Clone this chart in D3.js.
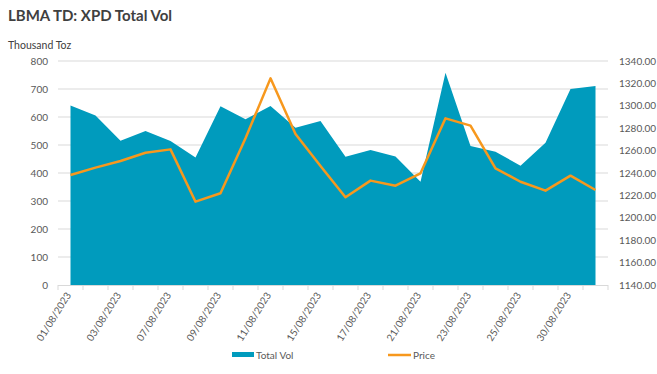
<!DOCTYPE html>
<html>
<head>
<meta charset="utf-8">
<script src="https://cdn.jsdelivr.net/npm/d3@7"></script>
<style>
  body { margin: 0; background: #fff; }
  svg text { font-family: "Lato", "Liberation Sans", sans-serif; fill: #595959; }
</style>
</head>
<body>
<div id="chart"></div>
<script>
// datos
const fechas = ["01/08/2023","02/08/2023","03/08/2023","04/08/2023","07/08/2023","08/08/2023",
  "09/08/2023","10/08/2023","11/08/2023","14/08/2023","15/08/2023","16/08/2023","17/08/2023",
  "18/08/2023","21/08/2023","22/08/2023","23/08/2023","24/08/2023","25/08/2023","29/08/2023",
  "30/08/2023","31/08/2023"]
const totalVol = [641, 605, 515, 550, 514, 455, 638, 592, 639, 562, 586, 458, 482, 459, 369,
  758, 496, 476, 426, 508, 700, 711]
const precio = [1238.2, 1244.8, 1250.7, 1258.1, 1261.1, 1214.4, 1221.9, 1271.0, 1324.5, 1274.8,
  1246.3, 1218.3, 1233.2, 1228.7, 1239.7, 1288.8, 1282.3, 1244.2, 1232.2, 1224.2, 1237.6, 1224.8]
const ticksIzq = [0, 100, 200, 300, 400, 500, 600, 700, 800]
const ticksDer = [1140, 1160, 1180, 1200, 1220, 1240, 1260, 1280, 1300, 1320, 1340]

const ancho = 657, alto = 374
const m = { left: 58, right: 49, top: 61, bottom: 89 }

const svg = d3.select("#chart").append("svg")
  .attr("width", ancho).attr("height", alto)

const x = d3.scaleBand().domain(fechas).range([m.left, ancho - m.right])
const yL = d3.scaleLinear().domain([0, 800]).range([alto - m.bottom, m.top])
const yR = d3.scaleLinear().domain([1140, 1340]).range([alto - m.bottom, m.top])
const cx = d => x(d) + x.bandwidth() / 2

// titulo
svg.append("text").attr("x", 8).attr("y", 21)
  .style("font-size", "15px").style("font-weight", "bold").style("fill", "#404040")
  .text("LBMA TD: XPD Total Vol")
svg.append("text").attr("x", 8).attr("y", 49)
  .style("font-size", "10.5px").style("fill", "#404040")
  .text("Thousand Toz")

// rejilla
svg.append("g").selectAll("line")
  .data(ticksIzq.slice(1)).enter().append("line")
  .attr("x1", m.left).attr("x2", ancho - m.right)
  .attr("y1", d => yL(d)).attr("y2", d => yL(d))
  .attr("stroke", "#d9d9d9").attr("stroke-width", 1)

// eje izquierdo
svg.append("g").selectAll("text")
  .data(ticksIzq).enter().append("text")
  .attr("x", 48).attr("y", d => yL(d)).attr("dy", "0.35em")
  .attr("text-anchor", "end").style("font-size", "10px")
  .text(d => d)

// eje derecho
svg.append("g").selectAll("text")
  .data(ticksDer).enter().append("text")
  .attr("x", 619).attr("y", d => yR(d)).attr("dy", "0.35em")
  .style("font-size", "10px")
  .text(d => d.toFixed(2))

// area
const area = d3.area()
  .x((d, i) => cx(fechas[i]))
  .y0(yL(0))
  .y1(d => yL(d))
svg.append("path").datum(totalVol)
  .attr("d", area).attr("fill", "#009bbd")

// linea precio
const linea = d3.line()
  .x((d, i) => cx(fechas[i]))
  .y(d => yR(d))
svg.append("path").datum(precio)
  .attr("d", linea).attr("fill", "none")
  .attr("stroke", "#f7981d").attr("stroke-width", 2.5)
  .attr("stroke-linejoin", "round")

// eje x
const base = alto - m.bottom
svg.append("line").attr("x1", m.left).attr("x2", ancho - m.right)
  .attr("y1", base + 0.5).attr("y2", base + 0.5).attr("stroke", "#d9d9d9")
svg.append("g").selectAll("line")
  .data(d3.range(fechas.length + 1)).enter().append("line")
  .attr("x1", i => m.left + i * x.bandwidth()).attr("x2", i => m.left + i * x.bandwidth())
  .attr("y1", base).attr("y2", base + 5).attr("stroke", "#d9d9d9")

svg.append("g").selectAll("text")
  .data(fechas.filter((d, i) => i % 2 === 0)).enter().append("text")
  .attr("transform", d => "translate(" + (cx(d) + 1) + "," + (base + 10) + ") rotate(-58)")
  .attr("text-anchor", "end").style("font-size", "10px")
  .text(d => d)

// leyenda
svg.append("rect").attr("x", 232).attr("y", 352).attr("width", 22).attr("height", 5)
  .attr("fill", "#009bbd")
svg.append("text").attr("x", 256).attr("y", 355).attr("dy", "0.35em")
  .style("font-size", "10px").text("Total Vol")
svg.append("line").attr("x1", 388).attr("x2", 411).attr("y1", 355).attr("y2", 355)
  .attr("stroke", "#f7981d").attr("stroke-width", 2.5)
svg.append("text").attr("x", 413).attr("y", 355).attr("dy", "0.35em")
  .style("font-size", "10px").text("Price")
</script>
</body>
</html>
